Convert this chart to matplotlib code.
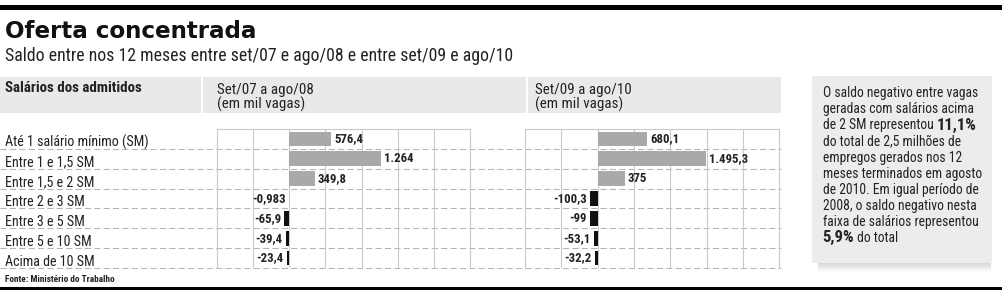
import matplotlib
matplotlib.use('Agg')
import matplotlib.pyplot as plt
import numpy as np
from matplotlib import font_manager
from matplotlib.patches import Rectangle

categories = ['Até 1 salário mínimo (SM)', 'Entre 1 e 1,5 SM', 'Entre 1,5 e 2 SM',
              'Entre 2 e 3 SM', 'Entre 3 e 5 SM', 'Entre 5 e 10 SM', 'Acima de 10 SM']
saldo_0708 = [576.4, 1264, 349.8, -0.983, -65.9, -39.4, -23.4]
labels_0708 = ['576,4', '1.264', '349,8', '-0,983', '-65,9', '-39,4', '-23,4']
saldo_0910 = [680.1, 1495.3, 375, -100.3, -99, -53.1, -32.2]
labels_0910 = ['680,1', '1.495,3', '375', '-100,3', '-99', '-53,1', '-32,2']
periods = ['Set/07 a ago/08', 'Set/09 a ago/10']
unit = '(em mil vagas)'
grid_ticks = [-1000, -500, 0, 500, 1000, 1500, 2000, 2500]

title = 'Oferta concentrada'
subtitle = 'Saldo entre nos 12 meses entre set/07 e ago/08 e entre set/09 e ago/10'
header = 'Salários dos admitidos'
source = 'Fonte: Ministério do Trabalho'
note_lines = ['O saldo negativo entre vagas', 'geradas com salários acima',
              'de 2 SM representou ', 'do total de 2,5 milhões de',
              'empregos gerados nos 12', 'meses terminados em agosto',
              'de 2010. Em igual período de', '2008, o saldo negativo nesta',
              'faixa de salários representou', ' do total']
note_big = ['11,1%', '5,9%']

names = {f.name for f in font_manager.fontManager.ttflist}
FONT = 'Roboto'
for cand in ['Liberation Sans Narrow', 'Roboto Condensed', 'Archivo Narrow']:
    if cand in names:
        FONT = cand
        break
plt.rcParams['font.family'] = [FONT, 'DejaVu Sans']

INK = '#222222'
BAND = '#e9e9e9'
GRID = '#c9c9c9'
W, H = 1003, 295

fig = plt.figure(figsize=(W / 100, H / 100), dpi=100)
bg = fig.add_axes([0, 0, 1, 1])
bg.set_xlim(0, W)
bg.set_ylim(H, 0)
bg.axis('off')
renderer = fig.canvas.get_renderer()


def fit(t, width):
    bb = t.get_window_extent(renderer)
    t.set_fontsize(t.get_fontsize() * width / bb.width)
    return t.get_fontsize()


def right_end(t):
    return t.get_window_extent(renderer).x1


# black rules
bg.add_patch(Rectangle((0, 5), W, 5, color='black', lw=0))
bg.add_patch(Rectangle((0, 286.7), W, 3.3, color='black', lw=0))

t = bg.text(5, 38.5, title, fontsize=16, fontweight='bold', family='DejaVu Sans', color='#111111')
fit(t, 253)
t = bg.text(5, 61, subtitle, fontsize=12, color=INK)
fit(t, 503)

# header band
for x0, x1 in [(0, 201), (203.3, 526), (528, 781)]:
    bg.add_patch(Rectangle((x0, 76.7), x1 - x0, 36.6, color=BAND, lw=0))
t = bg.text(5, 92.3, header, fontsize=9, fontweight='semibold', color=INK)
fs_head = fit(t, 137)
for x, p in zip([216.7, 535], periods):
    bg.text(x, 94, p, fontsize=fs_head, color=INK)
    bg.text(x, 108.3, unit, fontsize=fs_head, color=INK)

# row lines and labels
top, bottom = 129, 268
pitch = (bottom - top) / len(categories)
for i, cat in enumerate(categories):
    yb = top + (i + 1) * pitch
    bg.plot([0, 781], [yb, yb], color='#b5b5b5', lw=0.75, ls=(0, (6, 3)))
    t = bg.text(5, yb - 2.5, cat, fontsize=10, color=INK)
    if i == 0:
        fs_row = fit(t, 143)
    else:
        t.set_fontsize(fs_row)

t = bg.text(5, 282, source, fontsize=6, fontweight='bold', color=INK)
fit(t, 110)

# size of the bar value labels, from the width of "576,4"
t = bg.text(0, -50, labels_0708[0], fontsize=8, fontweight='bold')
fs_val = fit(t, 29)
t.remove()

# note box with soft shadow
for k, a in enumerate(np.linspace(0.28, 0.02, 9)):
    bg.add_patch(Rectangle((818, 262.7 + k), 173, 1, color='#777777', alpha=a, lw=0))
bg.add_patch(Rectangle((811.7, 75.7), 180, 187, color='#ececec', lw=0))
y = 97.3
fs_note = None
for i, line in enumerate(note_lines):
    if i == len(note_lines) - 1:
        b = bg.text(822.7, y, note_big[1], fontsize=fs_big, fontweight='bold', color=INK)
        bg.text(right_end(b), y, line, fontsize=fs_note, color=INK)
    else:
        t = bg.text(822.7, y, line, fontsize=9.5, color=INK)
        if fs_note is None:
            fs_note = fit(t, 155.6)
        else:
            t.set_fontsize(fs_note)
        if i == 2:
            b = bg.text(right_end(t), y, note_big[0], fontsize=13, fontweight='bold', color=INK)
            fs_big = fit(b, 40)
    y += 16.1

# the two bar panels
panels = [(216.7, 470.3, saldo_0708, labels_0708), (525, 779.3, saldo_0910, labels_0910)]
for x0, x1, vals, labs in panels:
    ax = fig.add_axes([x0 / W, 1 - bottom / H, (x1 - x0) / W, (bottom - top) / H])
    ax.set_facecolor('none')
    ypos = np.arange(len(vals))
    colors = ['#a9a9a9' if v > 0 else '#111111' for v in vals]
    ax.barh(ypos, vals, height=0.74, color=colors, zorder=3)
    for yy, v, lab in zip(ypos, vals, labs):
        if v > 0:
            ax.annotate(lab, (v, yy), xytext=(2.2, 0), textcoords='offset points',
                        ha='left', va='center', fontsize=fs_val, fontweight='bold', color=INK)
        else:
            ax.annotate(lab, (v, yy), xytext=(-2.5, 0), textcoords='offset points',
                        ha='right', va='center', fontsize=fs_val, fontweight='bold', color=INK)
    ax.set_xlim(grid_ticks[0], grid_ticks[-1])
    ax.set_ylim(len(vals) - 0.5, -0.5)
    ax.set_xticks(grid_ticks)
    ax.set_yticks([])
    ax.tick_params(length=0, labelbottom=False)
    ax.grid(axis='x', color=GRID, lw=0.8)
    ax.set_axisbelow(True)
    for s in ['top', 'left', 'right']:
        ax.spines[s].set_color(GRID)
        ax.spines[s].set_linewidth(0.8)
    ax.spines['bottom'].set_visible(False)

fig.savefig('out.png', dpi=100)
